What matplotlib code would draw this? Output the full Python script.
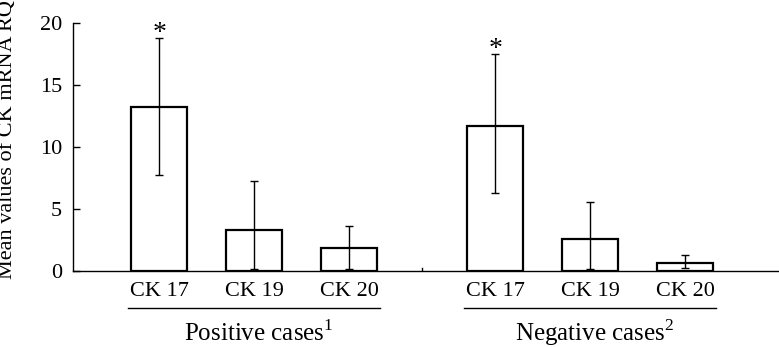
import matplotlib.pyplot as plt
import numpy as np

plt.rcParams['font.family'] = 'Liberation Serif'
plt.rcParams['mathtext.fontset'] = 'custom'
plt.rcParams['mathtext.rm'] = 'Liberation Serif'

# Mean CK mRNA RQ values
markers = ['CK 17', 'CK 19', 'CK 20']
groups = ['Positive cases$^{\\mathrm{1}}$', 'Negative cases$^{\\mathrm{2}}$']

pos_mean = [13.2, 3.3, 1.85]
pos_upper = [18.75, 7.2, 3.6]
pos_lower = [7.75, 0.1, 0.1]

neg_mean = [11.7, 2.55, 0.65]
neg_upper = [17.45, 5.55, 1.3]
neg_lower = [6.3, 0.1, 0.25]

significant = [True, False, False]

# bar positions: two groups with a gap between them
x_pos = np.array([0, 1, 2])
x_neg = x_pos + 3.54

fig = plt.figure(figsize=(7.79, 3.47), dpi=100)
ax = fig.add_axes([0.094, 0.22, 0.906, 0.7146])

width = 0.59
for xs, means, up, lo in [(x_pos, pos_mean, pos_upper, pos_lower),
                          (x_neg, neg_mean, neg_upper, neg_lower)]:
    means = np.array(means)
    yerr = [means - np.array(lo), np.array(up) - means]
    ax.bar(xs, means, width=width, facecolor='white', edgecolor='black', linewidth=1.6)
    ax.errorbar(xs, means, yerr=yerr, fmt='none', ecolor='black',
                elinewidth=1.0, capsize=3, capthick=1.0)
    for x, u, s in zip(xs, up, significant):
        if s:
            ax.text(x, u - 0.6, '*', ha='center', va='bottom', fontsize=20)

ax.set_ylim(0, 20)
ax.set_xlim(-0.905, 6.53)
ax.set_yticks([0, 5, 10, 15, 20])
ax.tick_params(axis='y', direction='in', length=5, width=1, labelsize=16, pad=8)
ax.set_xticks(list(x_pos) + list(x_neg))
ax.set_xticklabels(markers + markers, fontsize=16)
ax.tick_params(axis='x', length=0, pad=8)

# small separator tick between groups
ax.plot([2.77, 2.77], [0, 0.25], color='black', linewidth=1)

for side in ['top', 'right']:
    ax.spines[side].set_visible(False)
ax.spines['left'].set_linewidth(1.0)
ax.spines['bottom'].set_linewidth(1.0)

ax.set_ylabel('Mean values of CK mRNA RQ', fontsize=16)
ax.yaxis.set_label_coords(-0.08, 0.53)

# group underlines and labels
trans = ax.get_xaxis_transform()
for xs, name in zip([x_pos, x_neg], groups):
    ax.plot([xs[0] - 0.33, xs[-1] + 0.33], [-0.152, -0.152], color='black',
            linewidth=1.0, transform=trans, clip_on=False)
    ax.text(xs[1] + 0.05, -0.25, name, ha='center', va='center', fontsize=18,
            transform=trans)

plt.savefig('out.png', dpi=100)
